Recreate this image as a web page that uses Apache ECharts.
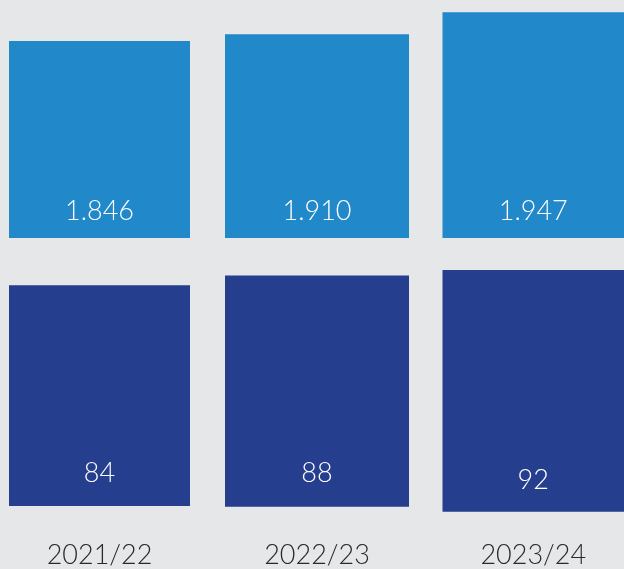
<!DOCTYPE html>
<html>
<head>
<meta charset="utf-8">
<script src="https://cdn.jsdelivr.net/npm/echarts@6/dist/echarts.min.js"></script>
<style>
html,body{margin:0;padding:0;background:#e6e7e9;}
#chart{width:624px;height:569px;}
</style>
</head>
<body>
<div id="chart"></div>
<script>
const categories = ['2021/22', '2022/23', '2023/24'];
const topValues = [1846, 1910, 1947];
const bottomValues = [84, 88, 92];

const FONT = 'Lato';
const fmt = v => String(v).replace(/\B(?=(\d{3})+(?!\d))/g, '.');

// layout per column (pixels)
const colLayout = [
  { left: 9, width: 181, topRowTop: 24.6, topRowBottom: 331, botTop: 243.3, botBottom: 57, yearMargin: 36, topDist: 13.5, botDist: 19 },
  { left: 225, width: 184, topRowTop: 24.6, topRowBottom: 331, botTop: 244, botBottom: 56.3, yearMargin: 35.3, topDist: 13.5, botDist: 19.5 },
  { left: 442.5, width: 181.5, topRowTop: 6.2, topRowBottom: 331, botTop: 249, botBottom: 51.3, yearMargin: 30.3, topDist: 13.5, botDist: 17.5 }
];

const grid = [], xAxis = [], yAxis = [], series = [];
categories.forEach((cat, i) => {
  const L = colLayout[i];
  grid.push({ left: L.left, width: L.width, top: L.topRowTop, bottom: L.topRowBottom });
  grid.push({ left: L.left, width: L.width, top: L.botTop, bottom: L.botBottom });
  const gTop = i * 2, gBot = i * 2 + 1;
  xAxis.push({ gridIndex: gTop, type: 'category', data: [cat], show: false });
  xAxis.push({
    gridIndex: gBot, type: 'category', data: [cat],
    axisLine: { show: false }, axisTick: { show: false },
    axisLabel: { margin: L.yearMargin, color: '#2a2a2a', fontFamily: FONT, fontWeight: 300, fontSize: 27 }
  });
  yAxis.push({ gridIndex: gTop, type: 'value', min: 0, max: 2000, show: false, splitLine: { show: false } });
  yAxis.push({ gridIndex: gBot, type: 'value', min: 0, max: 100, show: false, splitLine: { show: false } });
  series.push({
    type: 'bar', xAxisIndex: gTop, yAxisIndex: gTop, data: [topValues[i]], barWidth: '100%',
    itemStyle: { color: '#2188c9' }, silent: true,
    label: { show: true, position: 'insideBottom', distance: L.topDist, color: '#ffffff',
      fontFamily: FONT, fontWeight: 300, fontSize: 27, formatter: p => fmt(p.value) }
  });
  series.push({
    type: 'bar', xAxisIndex: gBot, yAxisIndex: gBot, data: [bottomValues[i]], barWidth: '100%',
    itemStyle: { color: '#253e8d' }, silent: true,
    label: { show: true, position: 'insideBottom', distance: L.botDist, color: '#ffffff',
      fontFamily: FONT, fontWeight: 300, fontSize: 27, formatter: p => fmt(p.value) }
  });
});

const chart = echarts.init(document.getElementById('chart'), null, { renderer: 'canvas' });
chart.setOption({
  backgroundColor: '#e6e7e9',
  animation: false,
  grid, xAxis, yAxis, series
});
</script>
</body>
</html>
